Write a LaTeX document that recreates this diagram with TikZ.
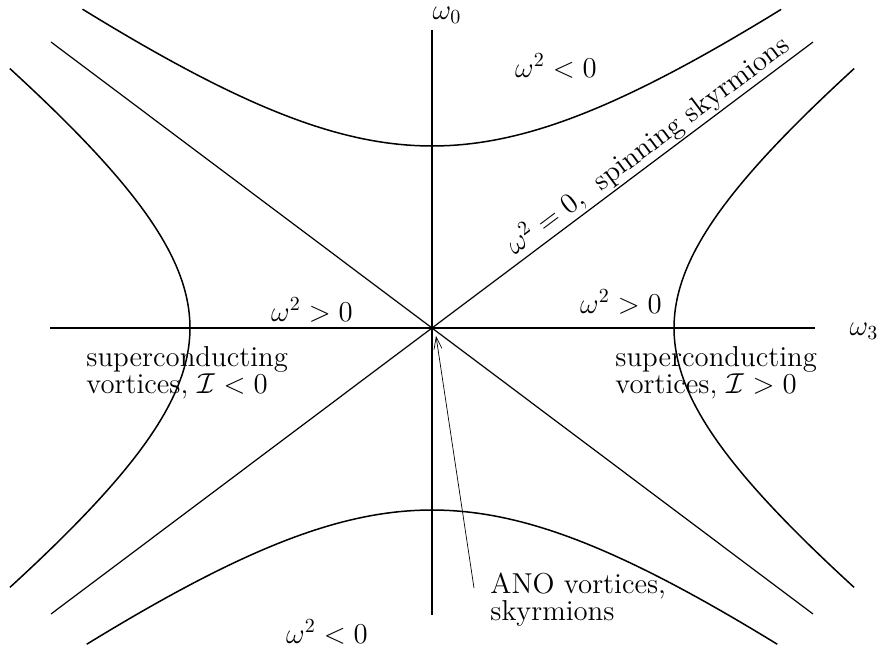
\documentclass[tikz,border=0pt]{standalone}
\usetikzlibrary{arrows.meta}
\begin{document}
\begin{tikzpicture}[x=0.5pt,y=-0.5pt,
  curve/.style={line width=0.75pt},
  axis/.style={line width=0.75pt},
  diag/.style={line width=0.6pt},
  lbl/.style={font=\Large,inner sep=0pt},
  blk/.style={font=\Large,inner sep=0pt,anchor=base west}]
\useasboundingbox (0,0) rectangle (879,647);
\coordinate (O) at (432,328);
% axes
\coordinate (xl) at (50,328);
\coordinate (xr) at (815,328);
\coordinate (yt) at (432,30);
\coordinate (yb) at (432,615);
\draw[axis] (xl) -- (xr);
\draw[axis] (yt) -- (yb);
% asymptotes
\coordinate (tl) at (51,42);
\coordinate (tr) at (813,42);
\coordinate (bl) at (51,614);
\coordinate (br) at (813,614);
\draw[diag] (tl) -- (br);
\draw[diag] (bl) -- (tr);
% hyperbolas
\draw[curve] plot[domain=-1.16:1.16,samples=80,variable=\t] ({432+243*sinh(\t)},{328-182*cosh(\t)});
\draw[curve] plot[domain=-1.15:1.15,samples=80,variable=\t] ({432+243*sinh(\t)},{328+182*cosh(\t)});
\draw[curve] plot[domain=-1.155:1.155,samples=80,variable=\t] ({432-242*cosh(\t)},{328+181.5*sinh(\t)});
\draw[curve] plot[domain=-1.155:1.155,samples=80,variable=\t] ({432+242*cosh(\t)},{328+181.5*sinh(\t)});
% labels
\node[lbl] (w0) at (447,15) {$\omega_0$};
\node[lbl] (w3) at (864,331) {$\omega_3$};
\node[lbl] (ntop) at (556,66) {$\omega^2<0$};
\node[lbl] (nbot) at (327,632) {$\omega^2<0$};
\node[lbl] (pl) at (312,310) {$\omega^2>0$};
\node[lbl] (pr) at (621,302) {$\omega^2>0$};
\node[blk] (sl1) at (86,366) {superconducting};
\node[blk] (sl2) at (86,393) {vortices, $\mathcal{I}<0$};
\node[blk] (sr1) at (615,366) {superconducting};
\node[blk] (sr2) at (615,393) {vortices, $\mathcal{I}>0$};
\coordinate (dm) at (658,159);
\node[lbl,rotate=36.87,anchor=south,inner sep=1pt] (sk) at (dm) {$\omega^2=0,$\ \ spinning skyrmions};
\node[blk] (ano1) at (490,593) {ANO vortices,};
\node[blk] (ano2) at (490,620) {skyrmions};
\coordinate (as) at (474,588);
\coordinate (ae) at (436,336);
\draw[line width=0.35pt,-{Straight Barb[length=6pt,width=4pt]}] (as) -- (ae);
\end{tikzpicture}
\end{document}
